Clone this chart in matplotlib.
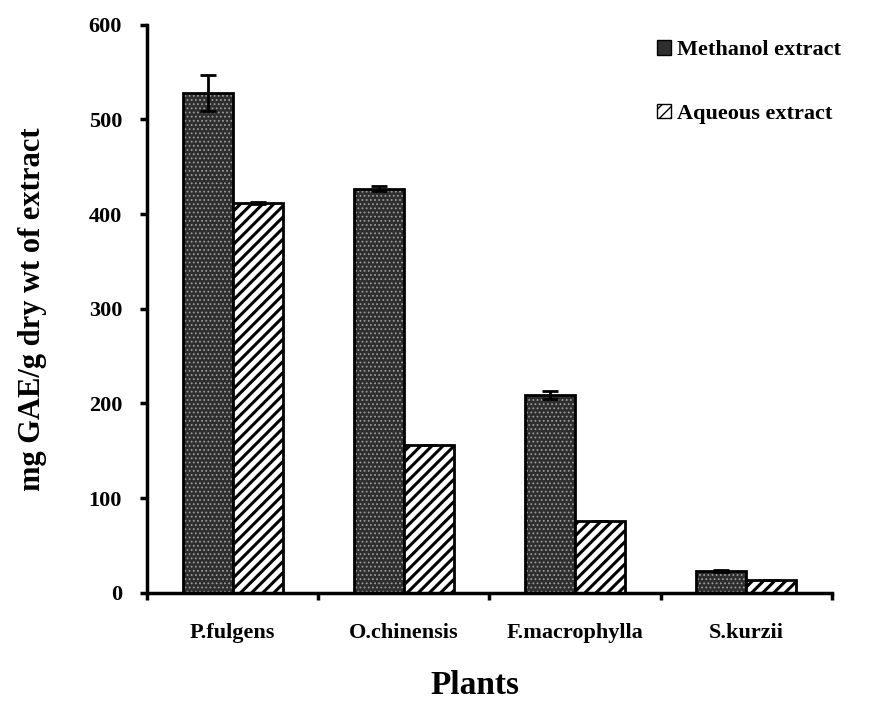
import numpy as np
import matplotlib
matplotlib.use("Agg")
import matplotlib.pyplot as plt
from matplotlib.patches import Patch

# valeurs (mg GAE / g)
plantes = ["P.fulgens", "O.chinensis", "F.macrophylla", "S.kurzii"]
methanol = [528, 427, 209, 23]
methanol_err = [19, 3, 4, 1]
aqueux = [412, 156, 76, 14]
aqueux_err = [1, 0, 0, 0]

plt.rcParams["font.family"] = ["Liberation Serif", "DejaVu Serif"]
plt.rcParams["font.weight"] = "bold"

fig = plt.figure(figsize=(8.78, 7.05), dpi=100)
ax = fig.add_axes([0.1675, 0.159, 0.78, 0.806])

x = np.arange(len(plantes))
w = 0.292

# barres méthanol : fond sombre pointillé puis contour noir
with plt.rc_context({"hatch.linewidth": 0.8}):
    ax.bar(x - w / 2, methanol, w, color="#2e2e2e", edgecolor="#9a9a9a",
           hatch="....", linewidth=0)
ax.bar(x - w / 2, methanol, w, fill=False, edgecolor="black", linewidth=2)
ax.errorbar(x - w / 2, methanol, yerr=methanol_err, fmt="none", ecolor="black",
            elinewidth=2, capsize=6, capthick=2)

with plt.rc_context({"hatch.linewidth": 2.2}):
    ax.bar(x + w / 2, aqueux, w, color="white", edgecolor="black",
           hatch="///", linewidth=2)
ax.errorbar(x + w / 2, aqueux, yerr=aqueux_err, fmt="none", ecolor="black",
            elinewidth=2, capsize=6, capthick=2)

ax.set_xlim(-0.5, len(plantes) - 0.5)
ax.set_ylim(0, 600)
ax.set_yticks(np.arange(0, 601, 100))
ax.set_xticks(x)
ax.set_xticklabels(plantes)
ax.set_xticks(np.arange(-0.5, len(plantes)), minor=True)

for s in ["top", "right"]:
    ax.spines[s].set_visible(False)
for s in ["left", "bottom"]:
    ax.spines[s].set_linewidth(2.5)

ax.tick_params(axis="y", direction="out", length=5, width=2.5, pad=13, labelsize=16)
ax.tick_params(axis="x", which="major", length=0, pad=22, labelsize=16)
ax.tick_params(axis="x", which="minor", direction="out", length=5, width=2.5)

ax.set_ylabel("mg GAE/g dry wt of extract", fontsize=22, fontweight="bold", labelpad=30)
fig.text(0.541, 0.016, "Plants", fontsize=24, fontweight="bold", ha="center", va="baseline")

poignees = [
    Patch(facecolor="#2e2e2e", edgecolor="black", linewidth=1),
    Patch(facecolor="white", edgecolor="black", hatch="///", linewidth=1),
]
ax.legend(poignees, ["Methanol extract", "Aqueous extract"], loc="upper left",
          bbox_to_anchor=(0.732, 0.988), frameon=False, fontsize=16,
          handlelength=0.6, handleheight=0.6, handletextpad=0.3, labelspacing=1.95,
          borderaxespad=0)

fig.savefig("out.png", dpi=100)
